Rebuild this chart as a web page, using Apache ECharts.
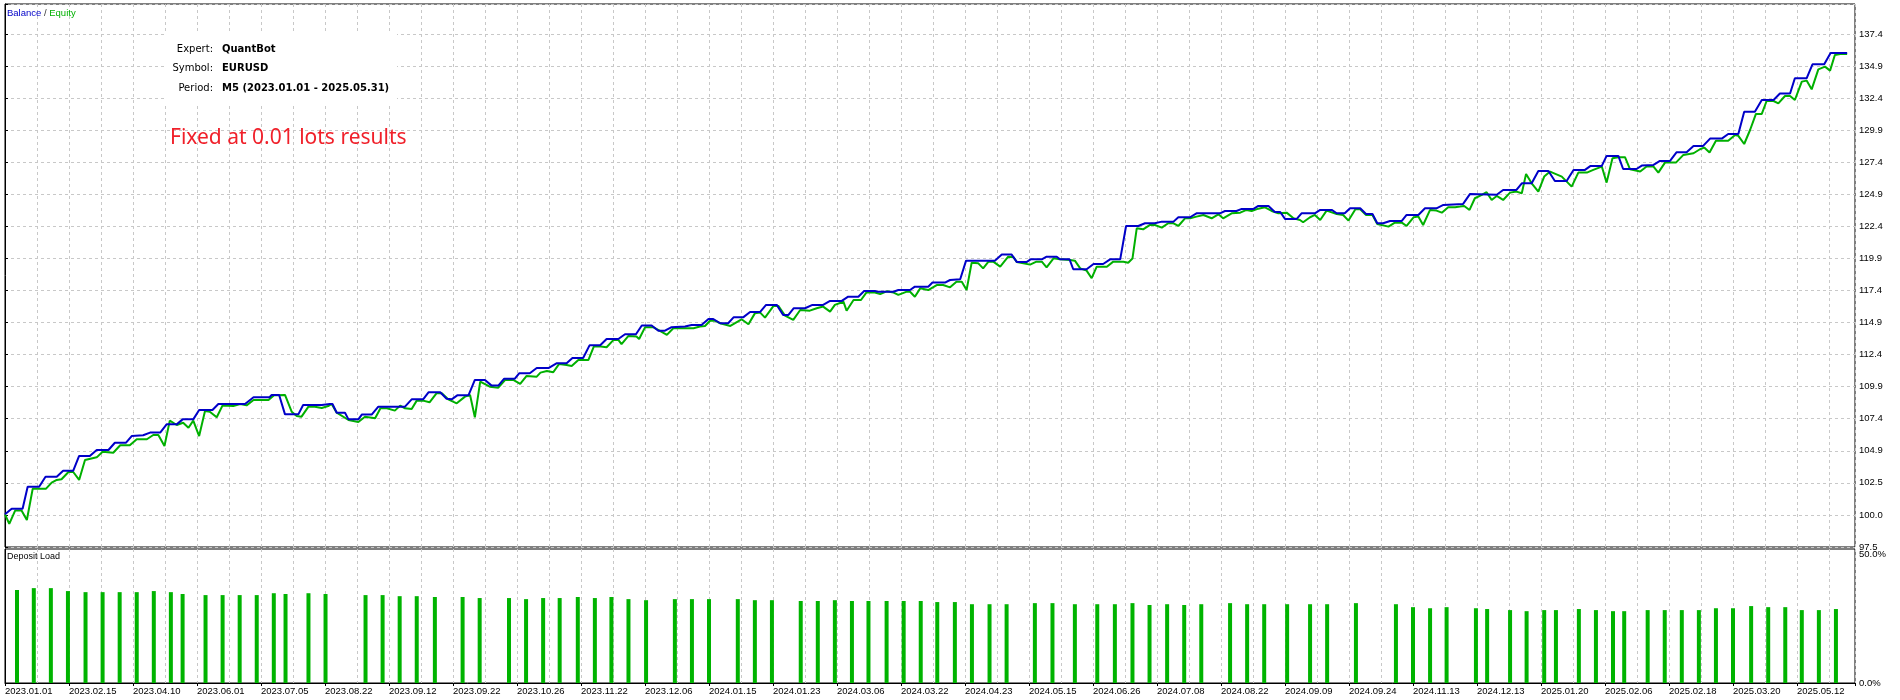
<!DOCTYPE html>
<html>
<head>
<meta charset="utf-8">
<script src="https://cdn.jsdelivr.net/npm/echarts@6/dist/echarts.min.js"></script>
<style>
html,body{margin:0;padding:0;background:#fff;}
#chart{width:1900px;height:700px;}
</style>
</head>
<body>
<div id="chart"></div>
<script>
// ---------- DATA ----------
// x = deal index, value = balance (blue line)
const balancePts = [[0,100.0],[1.25,100.44],[3.3,100.44],[4.25,102.15],[6.4,102.15],[7.6,102.93],[9.7,102.93],[10.9,103.40],[12.8,103.40],[13.9,104.55],[15.9,104.55],[17.2,105.01],[19.4,105.01],[20.6,105.58],[22.7,105.58],[23.75,106.10],[25.9,106.16],[27.2,106.37],[29.1,106.37],[30.3,107.01],[32.2,107.01],[33.3,107.40],[35.3,107.40],[36.4,108.13],[38.9,108.13],[40,108.60],[45,108.60],[46.6,109.12],[49.6,109.12],[50,109.30],[51.4,109.30],[52.5,107.79],[55,107.79],[55.9,108.52],[59.4,108.52],[60.9,108.60],[61.4,108.60],[62.2,107.92],[63.75,107.92],[64.4,107.40],[66.25,107.40],[66.9,107.77],[68.75,107.77],[70,108.39],[75,108.39],[76.25,108.96],[78.4,108.96],[79.4,109.51],[81.6,109.51],[82.8,109.01],[83.75,108.96],[84.8,109.27],[86.9,109.27],[88.1,110.47],[90,110.47],[91.25,110.03],[92.5,110.03],[93.6,110.57],[95.6,110.57],[96.4,110.99],[98.4,110.99],[99.7,111.40],[101.9,111.40],[103.4,111.77],[105.3,111.77],[106.4,112.18],[108.4,112.18],[109.6,113.17],[111.6,113.17],[112.8,113.66],[115,113.66],[116.25,114.03],[118.3,114.03],[119.4,114.71],[121.25,114.71],[122.5,114.31],[123.75,114.31],[124.9,114.57],[127.5,114.63],[128.75,114.76],[130.6,114.76],[131.9,115.22],[132.8,115.22],[134.1,114.89],[135.6,114.89],[136.6,115.35],[138.4,115.35],[139.7,115.77],[141.6,115.77],[142.7,116.32],[144.7,116.32],[145.9,115.54],[146.9,115.54],[147.9,116.06],[150,116.06],[151.4,116.32],[153.4,116.32],[154.7,116.63],[156.9,116.63],[158.1,116.96],[160,116.96],[161.1,117.41],[163.1,117.41],[163.6,117.35],[166.6,117.35],[167.5,117.48],[169.7,117.48],[170.6,117.74],[173.1,117.74],[173.9,118.06],[176.25,118.06],[177.2,118.26],[179.1,118.32],[180.2,119.77],[185.6,119.77],[186.9,120.24],[188.75,120.24],[189.7,119.67],[191.6,119.67],[192.3,119.87],[194.4,119.87],[195.3,120.08],[197.2,120.08],[197.8,119.87],[199.6,119.87],[200.3,119.10],[202.8,119.10],[204.1,119.51],[205.9,119.51],[207.2,119.87],[209.1,119.87],[210.2,122.47],[212.5,122.47],[213.75,122.68],[215.6,122.68],[216.9,122.81],[219.1,122.81],[220,123.15],[222.2,123.15],[223.4,123.46],[227.8,123.46],[228.75,123.64],[230.9,123.64],[231.9,123.80],[234.1,123.80],[235,124.03],[236.9,124.03],[238.1,123.56],[239.1,123.56],[240,123.02],[242.2,123.02],[243.1,123.46],[245.6,123.46],[246.6,123.72],[248.75,123.72],[249.7,123.46],[251.2,123.46],[252.2,123.85],[254.1,123.85],[255.2,123.41],[256.4,123.41],[257.3,122.68],[258.4,122.68],[259.7,122.86],[261.9,122.86],[262.8,123.33],[265,123.33],[266.25,123.85],[268.4,123.85],[269.7,124.11],[273.4,124.19],[274.7,124.97],[279.7,124.91],[280.9,125.28],[283.4,125.28],[284.4,125.80],[286.25,125.80],[287.5,126.76],[289.4,126.76],[290.6,125.98],[292.8,125.98],[294.1,126.84],[296.25,126.84],[297.3,127.15],[299.4,127.15],[300.3,127.93],[302.5,127.93],[303.4,126.91],[305.9,126.91],[306.9,127.18],[309.1,127.23],[310.3,127.54],[312.2,127.54],[313.4,128.21],[315.3,128.21],[316.6,128.71],[318.4,128.71],[319.7,129.28],[321.9,129.28],[323.1,129.64],[325,129.64],[326.1,131.38],[328.1,131.38],[329.4,132.29],[331.6,132.29],[332.8,132.79],[334.7,132.79],[335.6,133.98],[337.8,133.98],[338.9,135.07],[341.1,135.07],[342.3,135.96],[345.4,135.96]];

// x = deal index, value = equity (green line)
const equityPts = [[0,100.0],[0.8,99.25],[1.9,100.29],[3.1,100.29],[4.1,99.56],[5.2,102.0],[7.7,102.0],[8.75,102.47],[9.7,102.68],[10.6,102.73],[11.9,103.30],[12.8,103.30],[13.9,102.68],[15,104.23],[17.2,104.44],[18.3,104.88],[20.3,104.80],[21.6,105.38],[23.4,105.38],[24.7,105.85],[26.6,105.85],[27.8,106.18],[28.75,106.18],[29.9,105.33],[30.9,107.30],[32.2,106.96],[33.4,107.14],[34.4,106.75],[35.3,107.30],[36.4,106.10],[37.5,108.05],[38.4,108.0],[39.7,107.56],[40.8,108.49],[42.8,108.44],[44.1,108.60],[45.3,108.49],[46.6,108.91],[49.4,108.91],[50.4,109.27],[52.5,109.30],[53.75,108.0],[54.7,107.66],[55.6,107.61],[56.9,108.39],[58.1,108.39],[59.4,108.29],[60.6,108.44],[61.25,108.60],[62.2,107.92],[64.4,107.35],[66.25,107.2],[67.5,107.61],[69.4,107.48],[70.4,108.26],[71.6,108.26],[73.1,108.08],[74.1,108.47],[75,108.26],[76.25,108.21],[77.2,108.86],[78.4,108.86],[79.6,108.73],[80.9,109.43],[81.9,109.43],[83.1,108.96],[84.7,108.65],[86.25,109.17],[87.2,109.30],[88.1,107.56],[89.1,110.34],[90.9,109.95],[92.5,109.87],[93.75,110.47],[95.3,110.47],[96.6,110.16],[97.8,110.78],[99.7,110.73],[100.4,111.04],[101.6,111.17],[102.8,111.07],[103.9,111.72],[105.3,111.64],[106.25,111.56],[107.5,112.03],[109.4,112.03],[110.4,113.07],[111.7,113.07],[112.8,113.02],[114.1,113.59],[115,113.59],[115.6,113.27],[116.9,113.90],[118.4,113.85],[118.9,113.66],[120,114.57],[121.6,114.57],[122.8,114.29],[124.1,113.98],[125.3,114.50],[129.1,114.50],[130.3,114.63],[131.25,114.68],[132.2,115.09],[133.1,115.09],[134.1,114.89],[136,114.68],[138.1,115.20],[139.4,114.81],[140.6,115.66],[141.6,115.72],[142.5,115.33],[144.1,116.24],[145,116.24],[146.25,115.48],[147.8,115.15],[149.1,115.92],[150.9,115.87],[152.2,116.06],[153.4,116.19],[154.7,115.80],[155.6,116.32],[157.2,116.57],[157.8,115.87],[159.1,116.70],[160.5,116.70],[161.5,117.28],[163.1,117.28],[164.1,117.17],[165.3,117.38],[166.6,117.28],[167.5,117.10],[169.1,117.35],[169.7,117.35],[170.6,116.96],[171.6,117.61],[173.1,117.48],[174.7,117.87],[175.9,117.87],[177.2,117.69],[178.4,118.13],[179.4,118.13],[180.3,117.48],[181.25,119.61],[182.5,119.56],[183.4,119.17],[184.4,119.69],[185.3,119.69],[186.6,119.30],[188.1,120.08],[189.1,120.03],[189.7,119.67],[192.2,119.46],[193.4,119.69],[194.4,119.69],[195.3,119.25],[196.6,119.95],[197.8,119.87],[199.7,119.82],[200.6,119.77],[201.6,119.17],[202.8,118.99],[203.75,118.40],[204.7,119.30],[206.6,119.30],[207.8,119.69],[209.7,119.69],[210.6,119.61],[211.4,119.93],[212.2,122.29],[213.4,122.21],[214.7,122.55],[215.6,122.55],[216.9,122.34],[218.1,122.68],[219.1,122.68],[220,122.47],[221.25,123.07],[222.2,123.07],[223.4,123.20],[224.7,123.33],[226.25,123.07],[227.5,123.38],[228.4,123.07],[230,123.46],[231.6,123.51],[232.8,123.72],[233.75,123.64],[235,123.82],[236.25,123.93],[237.5,123.64],[238.75,123.46],[240.3,123.51],[241.6,123.07],[242.8,122.94],[243.4,122.76],[244.7,123.15],[245.6,123.33],[246.6,122.94],[247.8,123.67],[249.7,123.41],[250.9,123.33],[251.9,122.89],[253.2,123.77],[254.1,123.77],[255.2,123.33],[256.4,123.33],[257.3,122.63],[259.4,122.42],[260.6,122.73],[261.9,122.73],[262.8,122.47],[264.1,123.15],[265,123.20],[265.9,122.55],[267.2,123.72],[268.4,123.67],[269.4,123.51],[270.6,123.93],[271.9,123.93],[272.8,123.98],[273.6,124.03],[274.6,123.72],[275.6,124.63],[276.9,124.89],[277.8,125.10],[278.75,124.50],[279.7,124.81],[280.9,124.50],[282.2,125.07],[283.4,125.15],[284.4,125.02],[285.2,126.53],[286.25,125.80],[287.5,125.15],[288.6,126.32],[289.7,126.71],[291.9,126.32],[293.75,125.54],[295,126.63],[296.6,126.63],[297.8,126.84],[299.4,127.10],[300.3,125.85],[301.4,127.75],[302.5,127.83],[303.75,127.83],[304.7,126.89],[306.6,126.71],[307.8,127.10],[309.1,127.10],[310,126.63],[311.25,127.41],[313.3,127.41],[314.7,128.01],[316.6,128.14],[317.8,128.45],[318.6,128.58],[319.6,128.19],[320.8,129.12],[323.1,129.12],[324.4,129.56],[325,129.49],[326.1,128.86],[327.2,129.95],[328.3,131.20],[329.4,131.20],[330.3,132.21],[331.6,132.21],[332.5,132.03],[333.75,132.60],[334.7,132.60],[335.6,132.29],[336.9,133.72],[337.8,133.80],[338.75,133.12],[340,134.68],[341.25,134.89],[342.2,134.58],[343.1,135.80],[344.1,135.88],[345.4,135.88]];

// x = deal index, value = deposit load (%)
const depositLoadPts = [[2.25,34.7],[5.4,35.4],[8.6,35.4],[11.8,34.3],[15.1,33.9],[18.3,33.9],[21.5,33.9],[24.7,33.9],[27.9,34.3],[31.1,33.9],[33.3,33.2],[37.6,32.8],[40.8,32.8],[44,32.8],[47.2,32.8],[50.4,33.5],[52.6,33.2],[56.9,33.5],[60.1,33.2],[67.6,32.8],[70.8,32.8],[74,32.4],[77.2,32.4],[80.6,32.1],[85.8,32.1],[89,31.7],
[94.5,31.7],[97.7,31.3],[100.9,31.7],[104,31.7],[107.4,32.1],[110.6,31.7],[113.7,32.1],[116.9,31.3],[120.2,30.9],[125.6,31.3],[128.8,31.3],[132,31.3],[137.4,31.3],[140.6,30.9],[143.8,30.9],[149.2,30.6],[152.4,30.6],[155.6,30.9],[158.8,30.6],[161.9,30.6],[165.3,30.6],[168.5,30.6],[171.7,30.6],[174.8,30.2],[178.1,30.2],[181.3,29.4],[184.6,29.4],[187.8,29.4],[193.1,29.8],[196.4,29.8],[200.6,29.4],[204.8,29.4],[208.1,29.4],[211.4,29.8],[214.6,29.1],[217.9,29.4],[221.1,29.1],[224.3,29.4],
[229.7,29.8],[232.9,29.4],[236.1,29.4],[240.4,29.4],[244.7,29.4],[247.9,29.4],[253.3,29.8],[260.8,29.4],[264,28.3],[267.2,27.9],[270.3,28.3],[275.8,27.9],[277.9,27.6],[282.2,27.2],[285.3,26.8],[288.6,27.2],[290.8,27.2],[295.1,27.6],[298.3,27.2],[301.5,26.8],[303.6,26.8],[308,27.2],[311.2,27.2],[314.4,27.2],[317.6,27.2],[320.8,27.9],[324,27.9],[327.4,28.7],[330.6,28.3],[333.8,28.3],[336.9,27.2],[340.1,27.2],[343.3,27.6]];

// tick labels
const xTickLabels = ['2023.01.01','2023.02.15','2023.04.10','2023.06.01','2023.07.05','2023.08.22','2023.09.12','2023.09.22','2023.10.26','2023.11.22','2023.12.06','2024.01.15','2024.01.23','2024.03.06','2024.03.22','2024.04.23','2024.05.15','2024.06.26','2024.07.08','2024.08.22','2024.09.09','2024.09.24','2024.11.13','2024.12.13','2025.01.20','2025.02.06','2025.02.18','2025.03.20','2025.05.12'];
const yTickLabels = ['97.5','100.0','102.5','104.9','107.4','109.9','112.4','114.9','117.4','119.9','122.4','124.9','127.4','129.9','132.4','134.9','137.4'];

const infoLabels = ['Expert:','Symbol:','Period:'];
const infoValues = ['QuantBot','EURUSD','M5 (2023.01.01 - 2025.05.31)'];
const noteText = 'Fixed at 0.01 lots results';

// ---------- AXIS SETTINGS ----------
const X_LABEL_STEP = 12, X_GRID_STEP = 6, X_MAX = 346.875;
const Y_STEP = 2.4988, Y_MIN = 39 * Y_STEP, Y_MAX = 139.77;

const BLUE = '#0000c8', GREEN = '#00b000';
const AXIS_FONT = 'Liberation Sans';
const AXIS_SIZE = 9.5;
const gridLine = {show: true, lineStyle: {color: '#c8c8c8', width: 1, type: [3, 3]}};

function xLabel(v) {
  const k = Math.round(v / X_LABEL_STEP);
  return (Math.abs(v - k * X_LABEL_STEP) < 1e-3 && k >= 0 && k < xTickLabels.length) ? xTickLabels[k] : '';
}
function yLabel(v) {
  const k = Math.round((v - Y_MIN) / Y_STEP);
  return (Math.abs(v - (Y_MIN + k * Y_STEP)) < 1e-3 && k >= 0 && k < yTickLabels.length) ? yTickLabels[k] : '';
}

const chart = echarts.init(document.getElementById('chart'), null, {renderer: 'canvas'});

const smallFont = AXIS_SIZE + 'px "Liberation Sans"';
const graphics = [
  {type: 'text', x: 7, y: 13, z: 100, style: {
    text: '{b|Balance} / {e|Equity}', fill: '#333', font: smallFont,
    verticalAlign: 'middle', align: 'left',
    rich: {b: {fill: BLUE, font: smallFont}, e: {fill: GREEN, font: smallFont}}
  }},
  {type: 'rect', z: 90, shape: {x: 165, y: 34, width: 232, height: 72}, style: {fill: '#ffffff'}},
  {type: 'text', x: 170, y: 138, z: 100, style: {
    text: noteText, fill: '#f0202a', font: '21px "Noto Sans"', align: 'left', verticalAlign: 'middle'
  }},
  {type: 'text', x: 7, y: 557, z: 100, style: {
    text: 'Deposit Load', fill: '#000', font: '9px "Liberation Sans"', align: 'left', verticalAlign: 'middle'
  }}
];
const infoRowsY = [49, 68, 88];
infoLabels.forEach((t, i) => {
  graphics.push({type: 'text', x: 213, y: infoRowsY[i], z: 100, style: {
    text: t, fill: '#000', font: '10px "DejaVu Sans"', align: 'right', verticalAlign: 'middle'}});
  graphics.push({type: 'text', x: 222, y: infoRowsY[i], z: 100, style: {
    text: infoValues[i], fill: '#000', font: 'bold 10px "DejaVu Sans"', align: 'left', verticalAlign: 'middle'}});
});

const option = {
  animation: false,
  backgroundColor: '#ffffff',
  grid: [
    {left: 5, right: 45, top: 4, height: 543, show: true, borderColor: '#000', borderWidth: 1, backgroundColor: 'transparent'},
    {left: 5, right: 45, top: 549, height: 134, show: true, borderColor: '#000', borderWidth: 1, backgroundColor: 'transparent'}
  ],
  xAxis: [
    {gridIndex: 0, type: 'value', min: 0, max: X_MAX, interval: X_GRID_STEP, position: 'bottom',
      axisLine: {show: false}, axisTick: {show: false}, axisLabel: {show: false}, splitLine: gridLine},
    {gridIndex: 1, type: 'value', min: 0, max: X_MAX, interval: X_GRID_STEP, position: 'top',
      axisLine: {show: false}, axisTick: {show: false}, axisLabel: {show: false}, splitLine: gridLine},
    {gridIndex: 1, type: 'value', min: 0, max: X_MAX, interval: X_LABEL_STEP, position: 'bottom',
      axisLine: {show: true, lineStyle: {color: '#000', width: 1}},
      axisTick: {show: true, length: 3, inside: false, lineStyle: {color: '#000'}},
      axisLabel: {show: true, formatter: xLabel, align: 'left', margin: 3, color: '#000',
        fontFamily: AXIS_FONT, fontSize: AXIS_SIZE, hideOverlap: false, showMinLabel: true, showMaxLabel: true},
      splitLine: {show: false}}
  ],
  yAxis: [
    {gridIndex: 0, type: 'value', position: 'right', min: Y_MIN, max: Y_MAX, interval: Y_STEP,
      axisLine: {show: true, lineStyle: {color: '#000'}},
      axisTick: {show: true, length: 3, inside: false, lineStyle: {color: '#000'}},
      axisLabel: {show: true, formatter: yLabel, margin: 4, color: '#000', fontFamily: AXIS_FONT, fontSize: AXIS_SIZE,
        showMinLabel: true, showMaxLabel: true},
      splitLine: gridLine},
    {gridIndex: 1, type: 'value', position: 'right', min: 0, max: 50, interval: 50,
      axisLine: {show: true, lineStyle: {color: '#000'}},
      axisTick: {show: false},
      axisLabel: {show: true, formatter: v => v.toFixed(1) + '%', margin: 4, color: '#000',
        fontFamily: AXIS_FONT, fontSize: AXIS_SIZE, verticalAlignMaxLabel: 'top'},
      splitLine: {show: false}}
  ],
  series: [
    {name: 'Equity', type: 'line', xAxisIndex: 0, yAxisIndex: 0, data: equityPts,
      showSymbol: false, symbol: 'none', lineStyle: {color: GREEN, width: 2}, itemStyle: {color: GREEN}, z: 3},
    {name: 'Balance', type: 'line', xAxisIndex: 0, yAxisIndex: 0, data: balancePts,
      showSymbol: false, symbol: 'none', lineStyle: {color: BLUE, width: 2}, itemStyle: {color: BLUE}, z: 4},
    {name: 'Deposit Load', type: 'bar', xAxisIndex: 2, yAxisIndex: 1, data: depositLoadPts,
      barWidth: 4, itemStyle: {color: '#00b400'}}
  ],
  graphic: graphics
};
chart.setOption(option);
</script>
</body>
</html>
